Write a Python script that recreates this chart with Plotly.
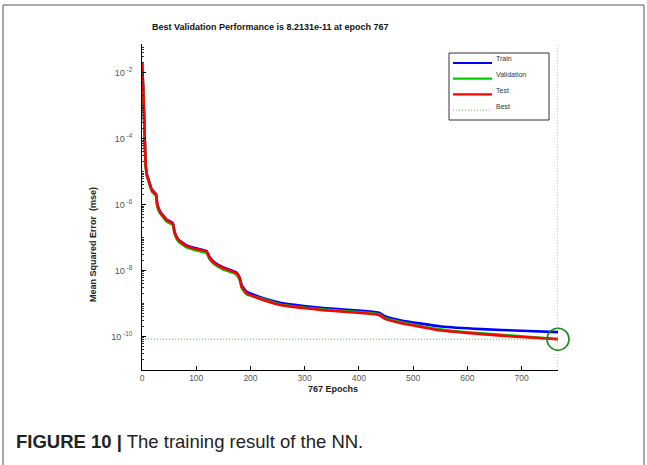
import plotly.graph_objects as go

# Training record of the network (mean squared error per epoch)
epochs = [0, 2, 4, 6, 7, 9, 12, 18, 26, 28, 33, 45, 57, 60, 67, 82, 100, 119, 125,
          134, 150, 174, 180, 184, 193, 217, 255, 330, 437, 448, 478, 552, 626, 700, 767]

train_mse = [2.09e-2, 3.98e-3, 3.98e-4, 3.31e-5, 1.48e-5, 8.32e-6, 5.75e-6, 2.88e-6,
             2.04e-6, 1.05e-6, 6.31e-7, 3.55e-7, 2.69e-7, 1.48e-7, 8.71e-8, 5.75e-8,
             4.68e-8, 3.89e-8, 2.45e-8, 1.74e-8, 1.23e-8, 8.71e-9, 6.03e-9, 3.47e-9,
             2.24e-9, 1.58e-9, 1.05e-9, 7.41e-10, 5.25e-10, 4.07e-10, 3.02e-10,
             2.00e-10, 1.66e-10, 1.48e-10, 1.35e-10]

val_mse = [2.09e-2, 3.98e-3, 3.98e-4, 3.16e-5, 1.35e-5, 7.24e-6, 5.01e-6, 2.51e-6,
           1.78e-6, 9.12e-7, 5.50e-7, 3.09e-7, 2.34e-7, 1.29e-7, 7.59e-8, 5.01e-8,
           4.07e-8, 3.39e-8, 2.14e-8, 1.51e-8, 1.07e-8, 7.59e-9, 5.25e-9, 2.88e-9,
           1.86e-9, 1.45e-9, 9.33e-10, 6.61e-10, 4.68e-10, 3.55e-10, 2.69e-10,
           1.62e-10, 1.23e-10, 1.00e-10, 8.2131e-11]

test_mse = [2.09e-2, 3.98e-3, 3.98e-4, 3.16e-5, 1.41e-5, 7.94e-6, 5.50e-6, 2.75e-6,
            1.95e-6, 1.00e-6, 6.03e-7, 3.39e-7, 2.57e-7, 1.41e-7, 8.32e-8, 5.50e-8,
            4.47e-8, 3.72e-8, 2.34e-8, 1.66e-8, 1.17e-8, 8.32e-9, 5.75e-9, 3.16e-9,
            2.04e-9, 1.38e-9, 8.91e-10, 6.31e-10, 4.47e-10, 3.39e-10, 2.51e-10,
            1.51e-10, 1.17e-10, 9.55e-11, 8.25e-11]

best_epoch = 767
best_perf = 8.2131e-11

y_tick_vals = [1e-2, 1e-4, 1e-6, 1e-8, 1e-10]
y_tick_text = ["10<sup> -2</sup>", "10<sup> -4</sup>", "10<sup> -6</sup>",
               "10<sup> -8</sup>", "10<sup> -10</sup>"]
x_tick_vals = [0, 100, 200, 300, 400, 500, 600, 700]

legend_names = ["Train", "Validation", "Test", "Best"]
colors = {"Train": "#0000ff", "Validation": "#00cc00", "Test": "#ff0000",
          "Best": "#4cc04c"}

FONT = "Liberation Sans, Arial, Helvetica, sans-serif"
Y_LOG_RANGE = [-11.02, -1.13]
line_style = dict(width=2.6, shape="spline", smoothing=0.4)

fig = go.Figure()
for name, vals in [("Train", train_mse), ("Validation", val_mse), ("Test", test_mse)]:
    fig.add_trace(go.Scatter(x=epochs, y=vals, mode="lines", name=name,
                             line=dict(color=colors[name], **line_style)))

best_line = dict(color=colors["Best"], width=1, dash="1px,2px")
fig.add_trace(go.Scatter(x=[0, best_epoch], y=[best_perf, best_perf], mode="lines",
                         name="Best", line=best_line, cliponaxis=False))
fig.add_trace(go.Scatter(x=[best_epoch, best_epoch],
                         y=[10 ** Y_LOG_RANGE[0], 10 ** Y_LOG_RANGE[1]],
                         mode="lines", line=best_line, cliponaxis=False,
                         showlegend=False))
fig.add_trace(go.Scatter(x=[best_epoch], y=[best_perf], mode="markers", showlegend=False,
                         cliponaxis=False,
                         marker=dict(symbol="circle-open", size=22, color="#1e8c1e",
                                     line=dict(width=1.6, color="#1e8c1e"))))

# minor ticks at every k*10^n on the log axis
minor_vals = [k * 10.0 ** n for n in range(-12, 0) for k in range(1, 10)]

fig.update_xaxes(range=[0, 767], showline=True, linecolor="black", linewidth=1,
                 ticks="inside", ticklen=4, tickcolor="black", tickvals=x_tick_vals,
                 tickfont=dict(family=FONT, size=8.5, color="#555555"),
                 showgrid=False, zeroline=False, mirror=False)
fig.update_yaxes(type="log", range=Y_LOG_RANGE, showline=True, linecolor="black",
                 linewidth=1, ticks="inside", ticklen=4, tickcolor="black",
                 tickvals=y_tick_vals, ticktext=y_tick_text, ticklabelstandoff=7,
                 tickfont=dict(family=FONT, size=9, color="#555555"),
                 minor=dict(tickvals=minor_vals, ticks="inside", ticklen=2,
                            tickcolor="#333333", showgrid=False),
                 showgrid=False, zeroline=False)

L, R, T, B = 142, 89, 44, 95
PW, PH = 647 - L - R, 465 - T - B


def px_x(x):
    return (x - L) / PW


def px_y(y):
    return (465 - B - y) / PH


annotations = [
    dict(text="<b>Best Validation Performance is 8.2131e-11 at epoch 767</b>",
         x=px_x(270), y=px_y(27), xanchor="center", yanchor="middle",
         font=dict(family=FONT, size=9, color="#111111")),
    dict(text="<b>Mean Squared Error  (mse)</b>", textangle=-90,
         x=px_x(93), y=px_y(245), xanchor="center", yanchor="middle",
         font=dict(family=FONT, size=9, color="#222222")),
    dict(text="<b>767 Epochs</b>", x=px_x(333), y=px_y(389), xanchor="center",
         yanchor="middle", font=dict(family=FONT, size=9, color="#222222")),
    dict(text="<b>FIGURE 10 |</b> The training result of the NN.",
         x=px_x(14), y=px_y(441), xanchor="left", yanchor="middle",
         font=dict(family=FONT, size=18.5, color="#222222")),
]

shapes = [dict(type="rect", xref="paper", yref="paper",
               x0=px_x(3), x1=px_x(644), y0=px_y(480), y1=px_y(5),
               line=dict(color="#555555", width=1, dash="solid"), layer="below")]

# legend box drawn in page pixels
shapes.append(dict(type="rect", xref="paper", yref="paper",
                   x0=px_x(449), x1=px_x(549), y0=px_y(120), y1=px_y(53),
                   line=dict(color="#333333", width=1, dash="solid"),
                   fillcolor="white", layer="above"))
for i, name in enumerate(legend_names):
    ly = 63 + i * 15.7
    is_best = name == "Best"
    shapes.append(dict(type="line", xref="paper", yref="paper",
                       x0=px_x(453), x1=px_x(492), y0=px_y(ly), y1=px_y(ly),
                       line=dict(color=colors[name], width=1 if is_best else 2.2,
                                 dash="1px,2px" if is_best else "solid"),
                       layer="above"))
    annotations.append(dict(text=name, x=px_x(494), y=px_y(ly - 4), xanchor="left",
                            yanchor="middle",
                            font=dict(family=FONT, size=7, color="#333333")))

for a in annotations:
    a.update(xref="paper", yref="paper", showarrow=False)

fig.update_layout(
    width=647, height=465, margin=dict(l=L, r=R, t=T, b=B),
    paper_bgcolor="white", plot_bgcolor="white",
    showlegend=False,
    annotations=annotations,
    shapes=shapes,
)

fig.write_html("out.html")
